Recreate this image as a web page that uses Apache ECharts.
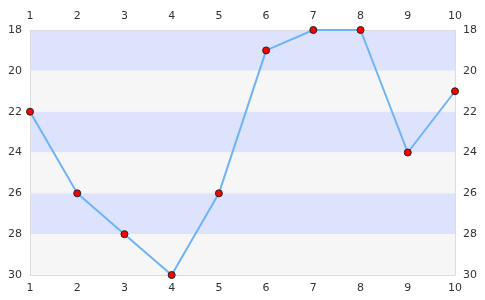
<!DOCTYPE html>
<html><head><meta charset="utf-8">
<script src="https://cdn.jsdelivr.net/npm/echarts@6/dist/echarts.min.js"></script>
<style>html,body{margin:0;padding:0;background:#fff}#c{width:485px;height:300px}</style>
</head><body><div id="c"></div>
<script>
var categories = ['1','2','3','4','5','6','7','8','9','10'];
var values = [22, 26, 28, 30, 26, 19, 18, 18, 24, 21];
var chart = echarts.init(document.getElementById('c'), null, {renderer:'canvas'});
var axisLine = {show:true, lineStyle:{color:'#dddddd'}};
var lbl = {color:'#333', fontSize:11, fontFamily:'DejaVu Sans'};
function xAxis(pos){return {type:'category', position:pos, data:categories, boundaryGap:false,
  axisLine:axisLine, axisTick:{show:false}, axisLabel:Object.assign({margin:8}, lbl), splitLine:{show:false}};}
function yAxis(pos, area){return {type:'value', position:pos, inverse:true, min:18, max:30, interval:2,
  axisLine:axisLine, axisTick:{show:false}, axisLabel:Object.assign({margin:8}, lbl), splitLine:{show:false},
  splitArea:{show:area, areaStyle:{color:['#dde3fd','#f6f6f6']}}};}
chart.setOption({
  animation:false,
  grid:{left:30, right:30, top:30, bottom:25, show:false},
  xAxis:[xAxis('top'), xAxis('bottom')],
  yAxis:[yAxis('left', true), yAxis('right', false)],
  series:[{type:'line', data:values, xAxisIndex:0, yAxisIndex:0,
    symbol:'circle', symbolSize:7,
    itemStyle:{color:'#ff0000', borderColor:'#222', borderWidth:1},
    lineStyle:{color:'#6fb3f7', width:2}}]
});
</script></body></html>
